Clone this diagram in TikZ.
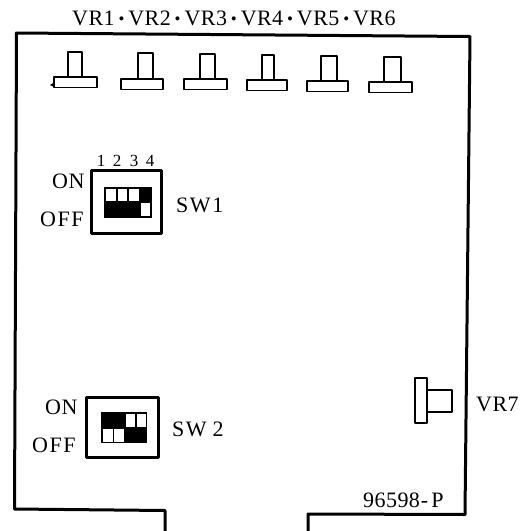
\documentclass[tikz,border=0pt]{standalone}
\usepackage{fontspec}
\setmainfont{Liberation Serif}
\newfontfamily\spaced[LetterSpace=7]{Liberation Serif}
\newfontfamily\tight[LetterSpace=2]{Liberation Serif}
\newcommand{\vrdot}{\hspace{3.9pt}{\fontsize{17}{17}\selectfont\raisebox{0.2pt}{\textbullet}}\hspace{3.9pt}}
\tikzset{
  board/.style={line width=3pt,line join=round},
  frame/.style={line width=3pt,line join=round},
  part/.style={line width=1.8pt,line join=round,fill=white},
  cell/.style={fill=white,draw=none},
  lab/.style={inner sep=0pt,anchor=base west,font=\fontsize{22}{22}\selectfont\spaced},
  small/.style={inner sep=0pt,anchor=base,font=\fontsize{17}{17}\selectfont}
}
\begin{document}
\begin{tikzpicture}[x=1pt,y=-1pt]
\useasboundingbox (0,0) rectangle (526,531);
% board outline
\draw[board] (165,531) -- (165,510.5) -- (14.5,509) -- (16.5,33) -- (470,36.5) -- (465,514.5) -- (308,514) -- (308,531);
% VR1-VR6
\foreach \bl/\br/\bt/\sl/\sr/\st in {54/97/77/68/82/52, 121/163/79/138/153/53, 184/227/79/200/215/54, 247/287/80/262/274/55, 307/348/81/321/337/56, 369/412/82/384/401/57}{
  \draw[part] (\sl,\bt) -- (\sl,\st) -- (\sr,\st) -- (\sr,\bt);
  \draw[part] (\bl,\bt) rectangle (\br,\bt+10.5);
}
\fill (50,85) -- (54,82.5) -- (54,87) -- cycle;
% VR7
\draw[part] (427,390) -- (452,390) -- (452,412) -- (427,412);
\draw[part] (415,378) rectangle (427,423);
% SW1
\draw[frame] (91,170) rectangle (161,233);
\fill (104,187) rectangle (152,218);
\fill[cell] (106,188.5) rectangle (116,201);
\fill[cell] (118,188.5) rectangle (127,201);
\fill[cell] (129,188.5) rectangle (139,201);
\fill[cell] (141,203) rectangle (150,216);
% SW2
\draw[frame] (86,397) rectangle (158,457);
\fill (101,412) rectangle (147,443);
\fill[cell] (126,414) rectangle (135,427);
\fill[cell] (137,414) rectangle (146,427);
\fill[cell] (103,429) rectangle (113,442);
\fill[cell] (114,429) rectangle (124,442);
% text
\node[lab] (vr) at (72,25) {\tight VR1\vrdot VR2\vrdot VR3\vrdot VR4\vrdot VR5\vrdot VR6};
\node[small] (n1) at (101,166) {1};
\node[small] (n2) at (117,166) {2};
\node[small] (n3) at (134,166) {3};
\node[small] (n4) at (150,166) {4};
\node[lab] (on1) at (52,188) {\tight ON};
\node[lab] (off1) at (40,226) {OFF};
\node[lab] (sw1) at (176,212) {SW1};
\node[lab] (on2) at (45,414) {\tight ON};
\node[lab] (off2) at (32,452.5) {OFF};
\node[lab] (sw2) at (172,436) {SW\hspace{6pt}2};
\node[lab] (vr7) at (476,411) {\tight VR7};
\node[lab] (pn) at (363,507) {\tight 96598\hspace{1pt}-\hspace{3pt}P};
\end{tikzpicture}
\end{document}
